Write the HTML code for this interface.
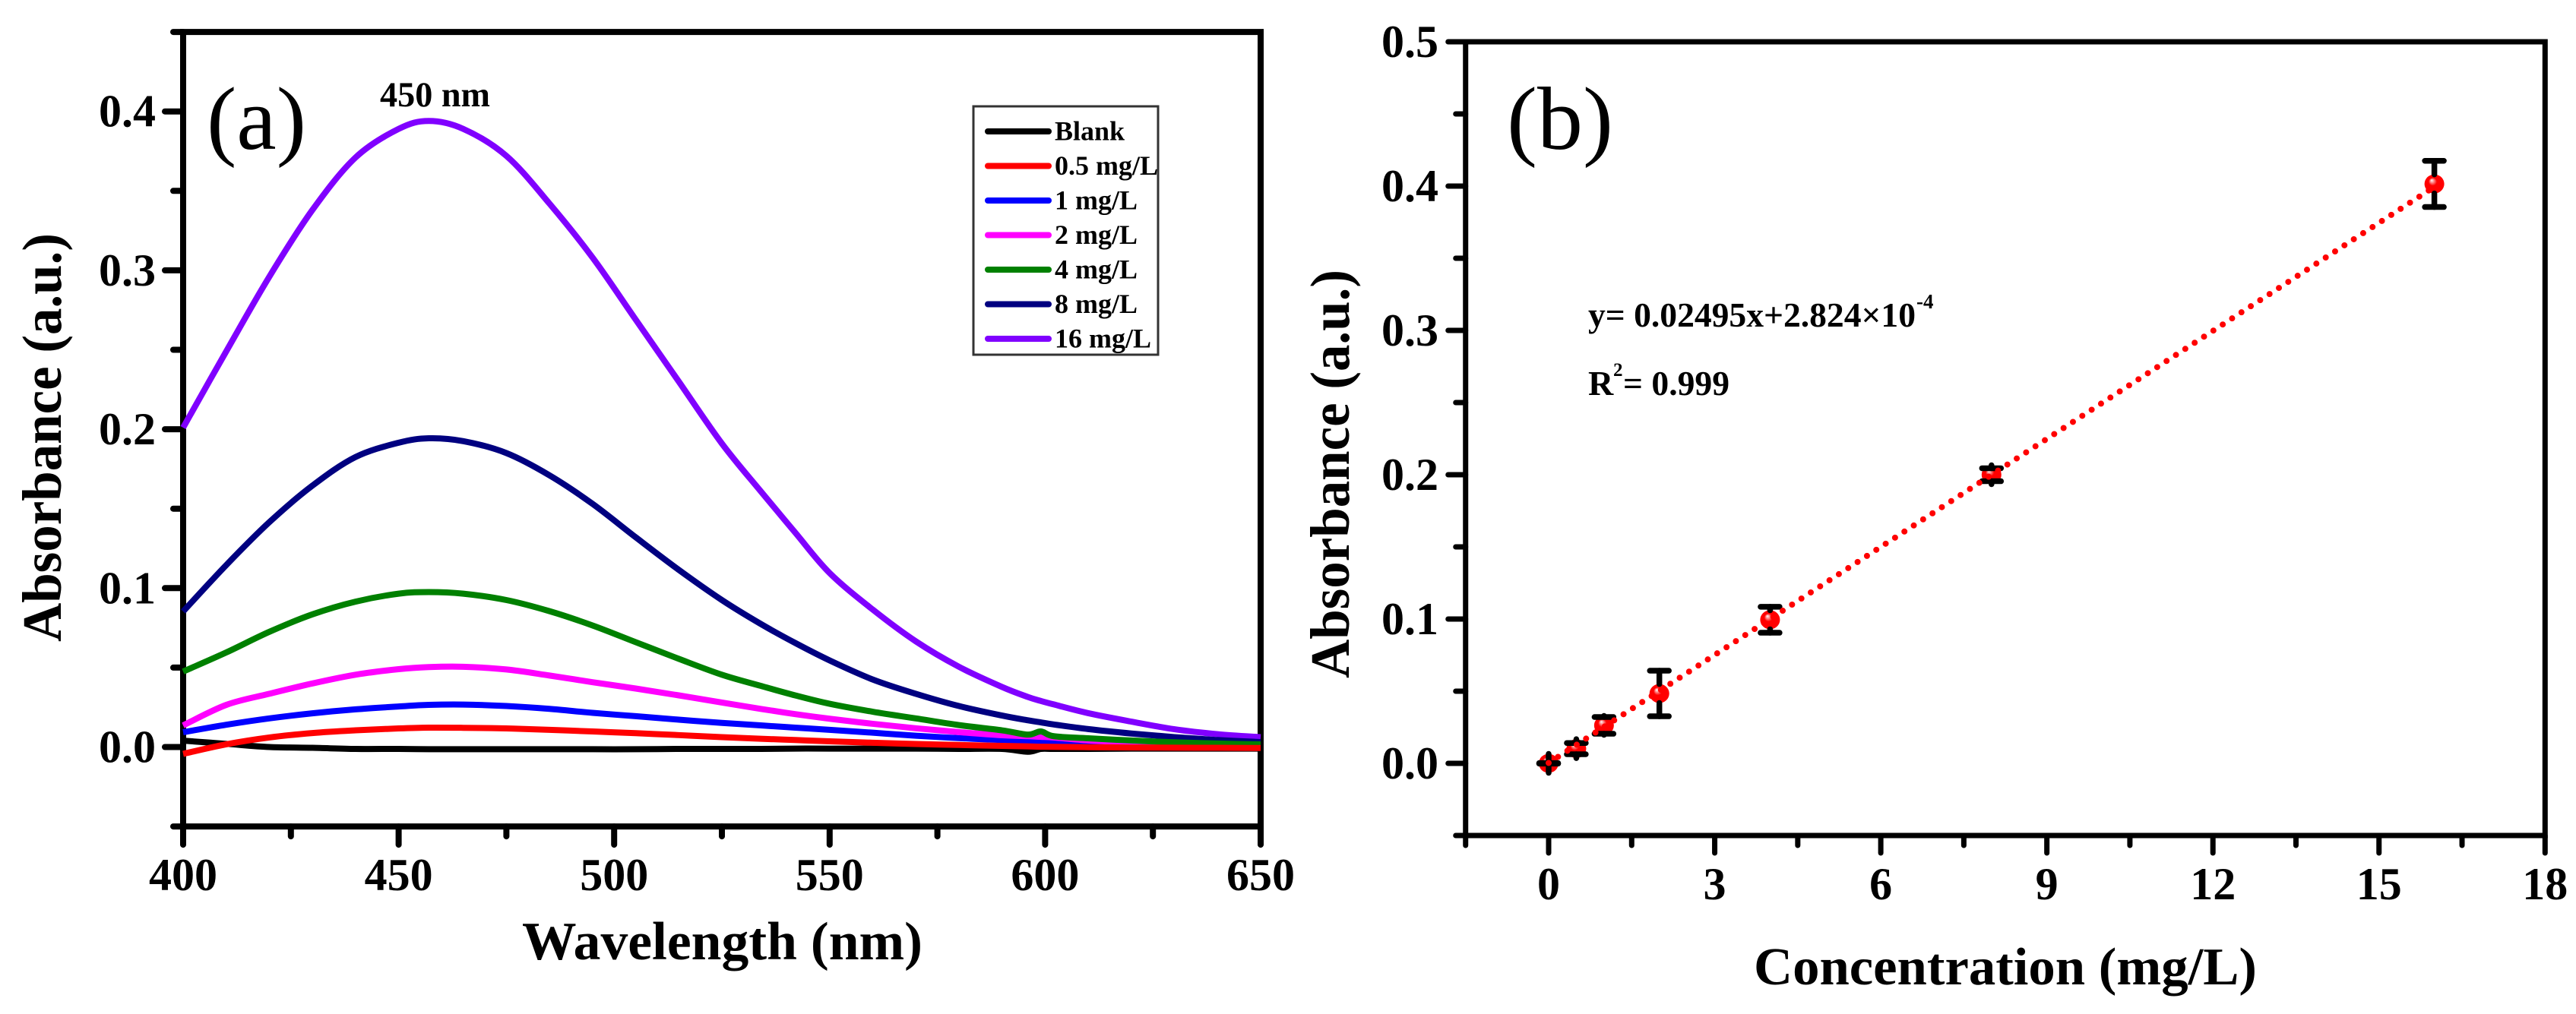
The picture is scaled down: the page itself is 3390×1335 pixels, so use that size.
<!DOCTYPE html>
<html lang="en">
<head>
<meta charset="utf-8">
<title>Absorbance spectra and calibration curve</title>
<style>
  html, body { margin: 0; padding: 0; background: #fff; }
  svg { display: block; }
  text { font-family: "Liberation Serif", serif; font-weight: bold; fill: #000; }
  .panel-letter { font-weight: normal; font-size: 118px; }
</style>
</head>
<body>
<svg id="figure" xmlns="http://www.w3.org/2000/svg" width="3390" height="1335" viewBox="0 0 3390 1335">
  <defs>
    <radialGradient id="markerShine" cx="0.5" cy="0.5" r="0.5" fx="0.36" fy="0.3">
      <stop offset="0" stop-color="#ffffff"></stop>
      <stop offset="0.42" stop-color="#ff0000"></stop>
      <stop offset="1" stop-color="#ff0000"></stop>
    </radialGradient>
  </defs>

  <g id="panelA">
    <g id="axesA"></g>
    <g id="curvesA"></g>
    <text class="panel-letter" x="272" y="196" textLength="131" lengthAdjust="spacingAndGlyphs">(a)</text>
    <text x="500" y="140" font-size="47" textLength="145" lengthAdjust="spacingAndGlyphs">450 nm</text>
    <text x="687" y="1263" font-size="71" textLength="527" lengthAdjust="spacingAndGlyphs">Wavelength (nm)</text>
    <text transform="translate(80,845) rotate(-90)" font-size="73" textLength="538" lengthAdjust="spacingAndGlyphs">Absorbance (a.u.)</text>
    <g id="legendA">
      <rect x="1281" y="140" width="243" height="327" fill="#fff" stroke="#333" stroke-width="3"></rect>
    </g>
  </g>

  <g id="panelB">
    <g id="axesB"></g>
    <g id="pointsB"></g>
    <text class="panel-letter" x="1983" y="196" textLength="140" lengthAdjust="spacingAndGlyphs">(b)</text>
    <text x="2090" y="430" font-size="46" textLength="431" lengthAdjust="spacingAndGlyphs">y= 0.02495x+2.824×10</text>
    <text x="2522" y="406" font-size="27">-4</text>
    <text x="2090" y="520" font-size="46">R</text>
    <text x="2123" y="495" font-size="25">2</text>
    <text x="2136" y="520" font-size="46" textLength="140" lengthAdjust="spacingAndGlyphs">= 0.999</text>
    <text x="2308" y="1296" font-size="70" textLength="662" lengthAdjust="spacingAndGlyphs">Concentration (mg/L)</text>
    <text transform="translate(1775,893) rotate(-90)" font-size="73" textLength="538" lengthAdjust="spacingAndGlyphs">Absorbance (a.u.)</text>
  </g>
</svg>

<script>
// ---- Panel (a) data ----
var wavelengths = [400,410,420,430,440,450,457,465,475,485,495,505,515,525,534,542,550,560,570,580,590,596,599,602,610,620,630,640,650];
var blankValues = [.004,.002,0,-.0005,-.0012,-.0012,-.0014,-.0014,-.0014,-.0014,-.0014,-.0014,-.0012,-.0012,-.0012,-.001,-.001,-.001,-.001,-.0012,-.0012,-.003,-.0012,-.0012,-.0012,-.001,-.001,-.001,-.001];
var mg05Values = [-.0043,.0017,.006,.0088,.0105,.0117,.0122,.0121,.0117,.0108,.0098,.0087,.0075,.0062,.0052,.0044,.0036,.0027,.0019,.0013,.0007,.0004,.0002,.0001,-.0001,-.0003,-.0004,-.0005,-.0006];
var mg1Values = [.0093,.014,.018,.0212,.0237,.0255,.0265,.0267,.0258,.024,.0215,.0194,.0172,.0152,.0136,.0122,.0108,.009,.0071,.0056,.0044,.0038,.0035,.0032,.0024,.0016,.001,.0006,.0002];
var mg2Values = [.0136,.0265,.0335,.040,.0455,.049,.0503,.0505,.0488,.045,.0408,.0368,.0325,.028,.024,.0207,.0178,.0146,.0118,.0094,.0074,.0068,.0064,.006,.0042,.0028,.0018,.0014,.001];
var mg4Values = [.0475,.0595,.0725,.0835,.0915,.0965,.0975,.0965,.0925,.0855,.0765,.066,.0555,.0455,.0385,.0325,.0272,.0222,.018,.0138,.0105,.0078,.0098,.0068,.0055,.0041,.003,.0022,.0017];
var mg8Values = [.0853,.1145,.1415,.1645,.1825,.1915,.1943,.1925,.185,.171,.153,.132,.1115,.0925,.0775,.0655,.0545,.0425,.0335,.0258,.0198,.0168,.0155,.0142,.0113,.0085,.0062,.0044,.0031];
var mg16Values = [.201,.249,.296,.338,.371,.389,.394,.389,.372,.342,.308,.269,.230,.191,.161,.135,.1095,.0865,.0665,.0505,.0378,.0315,.029,.0268,.0213,.016,.0112,.0081,.0062];
var legendLabels = ["Blank","0.5 mg/L","1 mg/L","2 mg/L","4 mg/L","8 mg/L","16 mg/L"];
var xMajorA = [400,450,500,550,600,650];
var xMinorA = [425,475,525,575,625];
var yMajorA = [0.0,0.1,0.2,0.3,0.4];
var yMinorA = [-0.05,0.05,0.15,0.25,0.35,0.45];

// ---- Panel (b) data ----
var concentrations = [0,0.5,1,2,4,8,16];
var absorbances = [0.000,0.0102,0.0263,0.0484,0.0995,0.2000,0.4015];
var errors = [0.0002,0.0039,0.0058,0.0158,0.0090,0.0045,0.0160];
var fitSlope = 0.02495;
var fitIntercept = 0.0002824;
var xMajorB = [0,3,6,9,12,15,18];
var xMinorB = [-1.5,1.5,4.5,7.5,10.5,13.5,16.5];
var yMajorB = [0.0,0.1,0.2,0.3,0.4,0.5];
var yMinorB = [-0.05,0.05,0.15,0.25,0.35,0.45];

var NS = "http://www.w3.org/2000/svg";
function mk(tag, attrs, parent) {
  var el = document.createElementNS(NS, tag);
  for (var k in attrs) el.setAttribute(k, attrs[k]);
  parent.appendChild(el);
  return el;
}
function xA(w) { return 241 + (w - 400) * 5.672; }
function yA(v) { return 983.5 - v * 2092; }
function xB(c) { return 2038 + c * 72.85; }
function yB(v) { return 1005 - v * 1900; }

function smoothPath(pts) {
  var d = "M" + pts[0][0].toFixed(2) + " " + pts[0][1].toFixed(2);
  for (var i = 0; i < pts.length - 1; i++) {
    var p0 = pts[Math.max(i - 1, 0)], p1 = pts[i], p2 = pts[i + 1], p3 = pts[Math.min(i + 2, pts.length - 1)];
    var c1x = p1[0] + (p2[0] - p0[0]) / 6, c1y = p1[1] + (p2[1] - p0[1]) / 6;
    var c2x = p2[0] - (p3[0] - p1[0]) / 6, c2y = p2[1] - (p3[1] - p1[1]) / 6;
    d += "C" + c1x.toFixed(2) + " " + c1y.toFixed(2) + " " + c2x.toFixed(2) + " " + c2y.toFixed(2) + " " + p2[0].toFixed(2) + " " + p2[1].toFixed(2);
  }
  return d;
}

function drawAxes(parent, xf, yf, xMajor, xMinor, yMajor, yMinor, box, geom, prefix, fmtX, fmtY) {
  var i, el, x, y;
  var frame = mk("rect", {x: box.l, y: box.t, width: box.r - box.l, height: box.b - box.t, fill: "none", stroke: "#000", "stroke-width": geom.sw}, parent);
  
  
  for (i = 0; i < xMajor.length; i++) {
    x = xf(xMajor[i]);
    el = mk("line", {x1: x, y1: box.b, x2: x, y2: box.b + geom.maj, stroke: "#000", "stroke-width": geom.sw, "stroke-linecap": "round"}, parent);
    
    
    el = mk("text", {x: x, y: geom.xLabelY, "font-size": 60, "text-anchor": "middle"}, parent);
    
    
    el.textContent = fmtX(xMajor[i]);
  }
  for (i = 0; i < xMinor.length; i++) {
    x = xf(xMinor[i]);
    el = mk("line", {x1: x, y1: box.b, x2: x, y2: box.b + geom.min, stroke: "#000", "stroke-width": geom.sw, "stroke-linecap": "round"}, parent);
    
    
  }
  for (i = 0; i < yMajor.length; i++) {
    y = yf(yMajor[i]);
    el = mk("line", {x1: box.l, y1: y, x2: box.l - geom.maj, y2: y, stroke: "#000", "stroke-width": geom.sw, "stroke-linecap": "round"}, parent);
    
    
    el = mk("text", {x: geom.yLabelX, y: y + 20, "font-size": 60, "text-anchor": "end"}, parent);
    
    
    el.textContent = fmtY(yMajor[i]);
  }
  for (i = 0; i < yMinor.length; i++) {
    y = yf(yMinor[i]);
    el = mk("line", {x1: box.l, y1: y, x2: box.l - geom.min, y2: y, stroke: "#000", "stroke-width": geom.sw, "stroke-linecap": "round"}, parent);
    
    
  }
}

function fmt1(v) { return v.toFixed(1); }
function fmt0(v) { return String(v); }

// Panel (a) axes
drawAxes(document.getElementById("axesA"), xA, yA, xMajorA, xMinorA, yMajorA, yMinorA,
  {l: xA(400), r: xA(650), t: yA(0.45), b: yA(-0.05)},
  {sw: 8, maj: 24, min: 13, xLabelY: 1172, yLabelX: 205}, "spectra", fmt0, fmt1);

// Panel (a) curves; draw order follows the overlaps visible in the picture
var seriesOrder = [
  {values: blankValues, color: "#000000", name: "curve-blank"},
  {values: mg1Values, color: "#0000ff", name: "curve-1-mg-l"},
  {values: mg2Values, color: "#ff00ff", name: "curve-2-mg-l"},
  {values: mg16Values, color: "#8000ff", name: "curve-16-mg-l"},
  {values: mg8Values, color: "#000080", name: "curve-8-mg-l"},
  {values: mg4Values, color: "#008000", name: "curve-4-mg-l"},
  {values: mg05Values, color: "#ff0000", name: "curve-0-5-mg-l"}
];
var curvesA = document.getElementById("curvesA");
seriesOrder.forEach(function (s) {
  var pts = wavelengths.map(function (w, i) { return [xA(w), yA(s.values[i])]; });
  var el = mk("path", {d: smoothPath(pts), fill: "none", stroke: s.color, "stroke-width": 8, "stroke-linejoin": "round"}, curvesA);
  
  
});

// Legend
var legendColors = ["#000000","#ff0000","#0000ff","#ff00ff","#008000","#000080","#8000ff"];
var legendA = document.getElementById("legendA");
legendLabels.forEach(function (label, i) {
  var y = 173 + i * 45.5;
  var sw = mk("line", {x1: 1300, y1: y, x2: 1380, y2: y, stroke: legendColors[i], "stroke-width": 8, "stroke-linecap": "round"}, legendA);
  
  
  var t = mk("text", {x: 1388, y: y + 11.5, "font-size": 36}, legendA);
  
  
  t.textContent = label;
});

// Panel (b) axes
drawAxes(document.getElementById("axesB"), xB, yB, xMajorB, xMinorB, yMajorB, yMinorB,
  {l: xB(-1.5), r: xB(18), t: yB(0.5), b: yB(-0.05)},
  {sw: 7, maj: 23, min: 13, xLabelY: 1184, yLabelX: 1893}, "calibration", fmt0, fmt1);

// Panel (b) markers, error bars, then the dotted fit on top
var pointsB = document.getElementById("pointsB");
var stemReach = 12.5;
concentrations.forEach(function (c, i) {
  var x = xB(c), y = yB(absorbances[i]);
  var m = mk("ellipse", {cx: x, cy: y, rx: 13, ry: 12.5, fill: "url(#markerShine)"}, pointsB);
  
  
  var up = yB(absorbances[i] + errors[i]), dn = yB(absorbances[i] - errors[i]);
  var half = (dn - up) / 2;
  var inner = Math.min(half, stemReach), outer = Math.max(half, stemReach);
  var s1 = mk("line", {x1: x, y1: y - inner, x2: x, y2: y - outer, stroke: "#000", "stroke-width": 7.5, "stroke-linecap": "round"}, pointsB);
  
  
  var s2 = mk("line", {x1: x, y1: y + inner, x2: x, y2: y + outer, stroke: "#000", "stroke-width": 7.5, "stroke-linecap": "round"}, pointsB);
  
  
  var c1 = mk("line", {x1: x - 12.5, y1: up, x2: x + 12.5, y2: up, stroke: "#000", "stroke-width": 7.5, "stroke-linecap": "round"}, pointsB);
  
  
  var c2 = mk("line", {x1: x - 12.5, y1: dn, x2: x + 12.5, y2: dn, stroke: "#000", "stroke-width": 7.5, "stroke-linecap": "round"}, pointsB);
  
  
});
var xStart = concentrations[0], xEnd = concentrations[concentrations.length - 1];
var fit = mk("line", {
  x1: xB(xStart), y1: yB(fitSlope * xStart + fitIntercept),
  x2: xB(xEnd), y2: yB(fitSlope * xEnd + fitIntercept),
  stroke: "#ff0000", "stroke-width": 8, "stroke-linecap": "round", "stroke-dasharray": "0 14.7"
}, pointsB);


</script>
</body>
</html>
